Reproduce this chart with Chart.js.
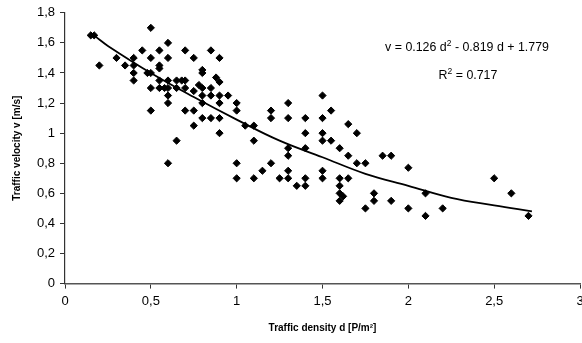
<!DOCTYPE html>
<html>
<head>
<meta charset="utf-8">
<script src="https://cdn.jsdelivr.net/npm/chart.js@4/dist/chart.umd.min.js"></script>
<style>
  html, body { margin: 0; padding: 0; background: #fff; overflow: hidden; }
  #wrap { position: relative; width: 590px; height: 343px; }
</style>
</head>
<body>
<div id="wrap"><canvas id="myChart"></canvas></div>
<script>
// measured points (density d, velocity v)
const densities = [
  0.15, 0.17, 0.2, 0.3, 0.35, 0.4, 0.4, 0.4, 0.4, 0.45,
  0.5, 0.5, 0.48, 0.5, 0.5, 0.5, 0.55, 0.55, 0.55, 0.55,
  0.55, 0.58, 0.6, 0.6, 0.6, 0.6, 0.6, 0.6, 0.6, 0.65,
  0.65, 0.65, 0.68, 0.7, 0.7, 0.7, 0.7, 0.75, 0.75, 0.75,
  0.75, 0.8, 0.8, 0.78, 0.8, 0.8, 0.8, 0.8, 0.85, 0.85,
  0.85, 0.85, 0.88, 0.9, 0.9, 0.9, 0.9, 0.9, 0.9, 0.95,
  1.0, 1.0, 1.0, 1.0, 1.05, 1.1, 1.1, 1.1, 1.15, 1.2,
  1.2, 1.2, 1.25, 1.3, 1.3, 1.3, 1.3, 1.3, 1.3, 1.35,
  1.4, 1.4, 1.4, 1.4, 1.4, 1.5, 1.5, 1.5, 1.5, 1.5,
  1.5, 1.55, 1.55, 1.6, 1.6, 1.6, 1.6, 1.62, 1.6, 1.65,
  1.65, 1.65, 1.7, 1.7, 1.75, 1.75, 1.8, 1.8, 1.85, 1.9,
  1.9, 2.0, 2.0, 2.1, 2.1, 2.2, 2.5, 2.6, 2.7
];
const velocities = [
  1.65, 1.65, 1.45, 1.5, 1.45, 1.5, 1.45, 1.4, 1.35, 1.55,
  1.7, 1.5, 1.4, 1.4, 1.3, 1.15, 1.55, 1.45, 1.43, 1.35,
  1.3, 1.3, 1.6, 1.5, 1.35, 1.3, 1.25, 1.2, 0.8, 1.35,
  1.3, 0.95, 1.35, 1.35, 1.3, 1.55, 1.15, 1.5, 1.28, 1.15,
  1.05, 1.42, 1.4, 1.32, 1.3, 1.25, 1.2, 1.1, 1.55, 1.3,
  1.25, 1.1, 1.37, 1.34, 1.5, 1.25, 1.2, 1.1, 1.0, 1.25,
  1.2, 1.15, 0.8, 0.7, 1.05, 1.05, 0.95, 0.7, 0.75, 1.15,
  1.1, 0.8, 0.7, 1.2, 1.1, 0.9, 0.85, 0.75, 0.7, 0.65,
  1.1, 1.0, 0.9, 0.7, 0.65, 1.25, 1.1, 1.0, 0.95, 0.75,
  0.7, 1.15, 0.95, 0.9, 0.7, 0.65, 0.6, 0.58, 0.55, 1.06,
  0.85, 0.7, 1.0, 0.8, 0.8, 0.5, 0.6, 0.55, 0.85, 0.85,
  0.55, 0.77, 0.5, 0.6, 0.45, 0.5, 0.7, 0.6, 0.45
];

// trend curve
const trendD = [0.18, 0.25, 0.5, 0.75, 1.0, 1.25, 1.5, 1.75, 2.0, 2.25, 2.5, 2.72];
const trendV = [1.64, 1.58, 1.40, 1.24, 1.09, 0.95, 0.84, 0.73, 0.65, 0.57, 0.52, 0.48];

const xTicks = [0, 0.5, 1, 1.5, 2, 2.5, 3];
const yTicks = [0, 0.2, 0.4, 0.6, 0.8, 1, 1.2, 1.4, 1.6, 1.8];

const FONT = "'Liberation Sans', Arial, sans-serif";

const pts = densities.map((d, i) => ({ x: d, y: velocities[i] }));
const trend = trendD.map((d, i) => ({ x: d, y: trendV[i] }));

function comma(v) {
    return String(v).replace('.', ',');
}

// equation + R² label in the upper right
const eqLabel = {
    id: 'eqLabel',
    afterDraw(chart) {
        const c = chart.ctx;
        const a = chart.chartArea;
        c.save();
        c.fillStyle = '#000';
        c.textBaseline = 'alphabetic';
        const big = '12.4px ' + FONT;
        const small = '8.5px ' + FONT;

        const parts1 = [['v = 0.126 d', big, 0], ['2', small, -5], [' - 0.819 d + 1.779', big, 0]];
        const parts2 = [['R', big, 0], ['2', small, -5], [' = 0.717', big, 0]];

        function drawParts(parts, cx, y) {
            let w = 0;
            parts.forEach(p => { c.font = p[1]; w += c.measureText(p[0]).width; });
            let x = cx - w / 2;
            parts.forEach(p => {
                c.font = p[1];
                c.fillText(p[0], x, y + p[2]);
                x += c.measureText(p[0]).width;
            });
        }
        drawParts(parts1, a.left + 402, a.top + 38);
        drawParts(parts2, a.left + 403, a.top + 66);
        c.restore();
    }
};

const ctx = document.getElementById('myChart').getContext('2d');
const myChart = new Chart(ctx, {
    type: 'scatter',
    data: {
        datasets: [{
            label: 'data',
            data: pts,
            pointStyle: 'rectRot',
            pointRadius: 3.6,
            borderWidth: 1,
            backgroundColor: '#000',
            borderColor: '#000'
        }, {
            type: 'line',
            label: 'trend',
            data: trend,
            showLine: true,
            borderColor: '#000',
            borderWidth: 1.8,
            pointRadius: 0,
            tension: 0.4,
            fill: false
        }]
    },
    options: {
        responsive: true,
        maintainAspectRatio: false,
        animation: false,
        layout: { padding: { top: 3, right: 10, left: 0, bottom: 0 } },
        plugins: {
            legend: { display: false },
            tooltip: { enabled: false }
        },
        scales: {
            x: {
                type: 'linear',
                min: 0,
                max: 3,
                afterBuildTicks(scale) { scale.ticks = xTicks.map(v => ({ value: v })); },
                afterFit(scale) { scale.height = 59.4; },
                grid: { drawOnChartArea: false, drawTicks: true, tickLength: 5, color: '#333' },
                border: { display: true, color: '#555', width: 1.5 },
                ticks: {
                    color: '#000',
                    padding: 5,
                    font: { family: FONT, size: 13 },
                    callback: v => comma(v)
                },
                title: {
                    display: true,
                    text: 'Traffic density d [P/m²]',
                    color: '#000',
                    padding: { top: 0, bottom: 9 },
                    font: { family: FONT, size: 10, weight: 'bold' }
                }
            },
            y: {
                type: 'linear',
                min: 0,
                max: 1.8,
                afterBuildTicks(scale) { scale.ticks = yTicks.map(v => ({ value: v })); },
                afterFit(scale) { scale.width = 65; },
                grid: { drawOnChartArea: false, drawTicks: true, tickLength: 5, color: '#333' },
                border: { display: true, color: '#333', width: 1.2 },
                ticks: {
                    color: '#000',
                    padding: 5,
                    font: { family: FONT, size: 13 },
                    callback: v => comma(v)
                },
                title: {
                    display: true,
                    text: 'Traffic velocity v [m/s]',
                    color: '#000',
                    padding: { top: 11, bottom: 0 },
                    font: { family: FONT, size: 10, weight: 'bold' }
                }
            }
        }
    },
    plugins: [eqLabel]
});
</script>
</body>
</html>
